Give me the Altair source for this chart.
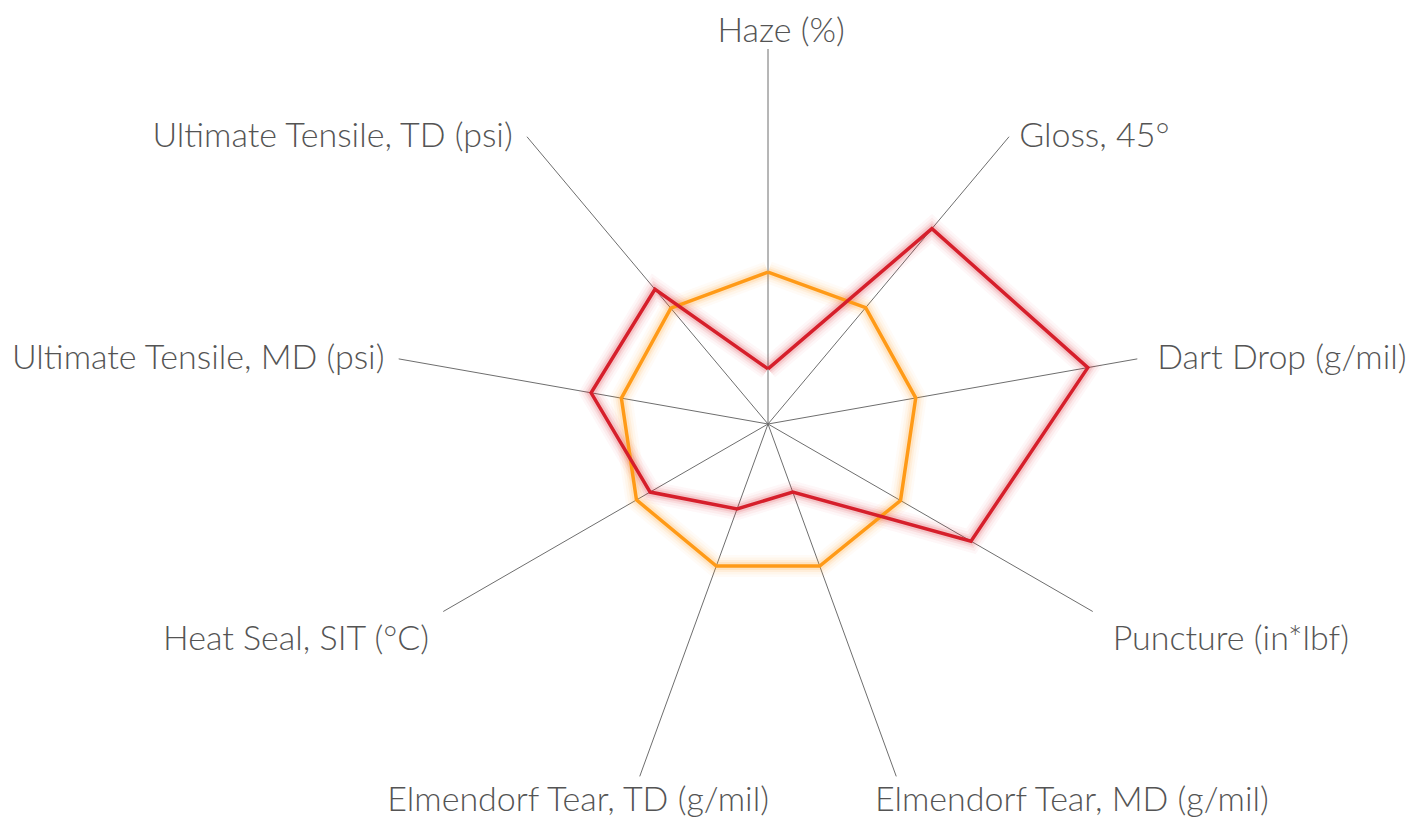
import altair as alt
import pandas as pd

# ---- data ----
categories = [
    "Haze (%)",
    "Gloss, 45°",
    "Dart Drop (g/mil)",
    "Puncture (in*lbf)",
    "Elmendorf Tear, MD (g/mil)",
    "Elmendorf Tear, TD (g/mil)",
    "Heat Seal, SIT (°C)",
    "Ultimate Tensile, MD (psi)",
    "Ultimate Tensile, TD (psi)",
]
series_red = [0.147, 0.680, 0.866, 0.625, 0.193, 0.241, 0.363, 0.479, 0.469]
series_orange = [0.405, 0.405, 0.400, 0.408, 0.403, 0.403, 0.405, 0.397, 0.403]

N = len(categories)
rows = []
for name, vals in [("red", series_red), ("orange", series_orange)]:
    closed = vals + vals[:1]
    for i, v in enumerate(closed):
        rows.append({"series": name, "idx": i, "value": v})
lines_df = pd.DataFrame(rows)
axes_df = pd.DataFrame({"idx": list(range(N)), "label": categories})

# ---- layout ----
W, H = 1412, 812
CX, CY, R = 760, 416, 375
xs = alt.Scale(domain=[-CX / R, (W - CX) / R], nice=False, zero=False)
ys = alt.Scale(domain=[-(H - CY) / R, CY / R], nice=False, zero=False)
ANG = f"PI/2 - datum.idx*2*PI/{N}"

FONT = "Lato"
TEXT_COLOR = "#545454"
RED = "#d61f2b"
ORANGE = "#ff9a17"

# axis spokes
spokes = (
    alt.Chart(axes_df)
    .transform_calculate(a=ANG)
    .transform_calculate(x0="0", y0="0", x1="cos(datum.a)", y1="sin(datum.a)")
    .mark_rule(color="#6e6e6e", strokeWidth=1)
    .encode(
        x=alt.X("x0:Q", scale=xs, axis=None),
        y=alt.Y("y0:Q", scale=ys, axis=None),
        x2="x1:Q",
        y2="y1:Q",
    )
)


def series_line(name, color, width, opacity):
    return (
        alt.Chart(lines_df)
        .transform_filter(f"datum.series == '{name}'")
        .transform_calculate(a=ANG)
        .transform_calculate(
            x="datum.value*cos(datum.a)", y="datum.value*sin(datum.a)"
        )
        .mark_line(
            color=color,
            strokeWidth=width,
            opacity=opacity,
            strokeJoin="miter",
            strokeCap="butt",
        )
        .encode(
            x=alt.X("x:Q", scale=xs, axis=None),
            y=alt.Y("y:Q", scale=ys, axis=None),
            order="idx:Q",
        )
    )


glow_layers = []
for w, op in [(22, 0.035), (17, 0.05), (12, 0.08), (8, 0.12)]:
    glow_layers.append(series_line("orange", ORANGE, w, op))
    glow_layers.append(series_line("red", RED, w, op))

main_lines = [series_line("orange", ORANGE, 3.5, 1), series_line("red", RED, 3.5, 1)]

# label anchor: at the spoke end, nudged sideways; lower labels sit below the end,
# the two bottom labels are spread outward and centred.
LX = (
    "datum.s < -0.8 ? 1.925*datum.c + 0.152 : "
    "(datum.c > 0.05 ? datum.c + (datum.c > 0.8 ? 0.053 : 0.027) : "
    "(datum.c < -0.05 ? datum.c - 0.038 : datum.c + 0.035))"
)
LY = (
    "datum.s > 0.9 ? datum.s + 0.045 : "
    "(datum.s < -0.8 ? datum.s - 0.066 : "
    "(datum.s < -0.3 ? datum.s - 0.075 : datum.s))"
)


def label_layer(cond, align):
    return (
        alt.Chart(axes_df)
        .transform_calculate(a=ANG)
        .transform_calculate(c="cos(datum.a)", s="sin(datum.a)")
        .transform_calculate(x=LX, y=LY)
        .transform_filter(cond)
        .mark_text(
            align=align,
            baseline="middle",
            font=FONT,
            fontSize=34,
            fontWeight=300,
            color=TEXT_COLOR,
        )
        .encode(
            x=alt.X("x:Q", scale=xs, axis=None),
            y=alt.Y("y:Q", scale=ys, axis=None),
            text="label:N",
        )
    )


labels = [
    label_layer("datum.c > 0.05 && datum.s >= -0.8", "left"),
    label_layer("datum.c < -0.05 && datum.s >= -0.8", "right"),
    label_layer("abs(datum.c) <= 0.05 || datum.s < -0.8", "center"),
]

chart = (
    alt.layer(spokes, *glow_layers, *main_lines, *labels)
    .properties(width=W, height=H, padding=0, autosize="none")
    .configure_view(stroke=None)
)

chart.save("out.html", embed_options={"renderer": "svg", "actions": False})
